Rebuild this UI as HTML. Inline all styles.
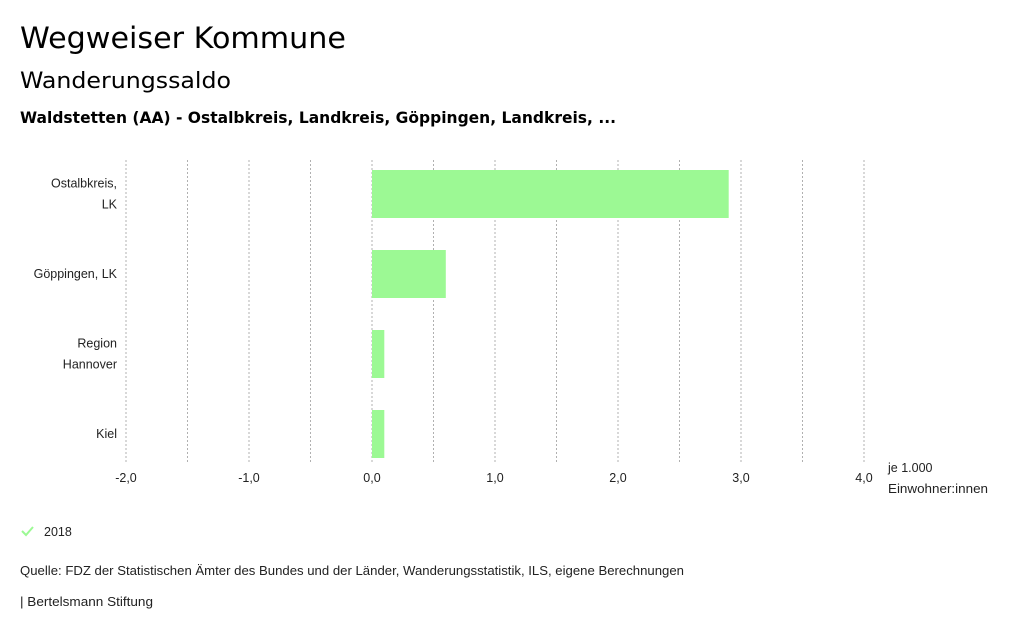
<!DOCTYPE html>
<html><head><meta charset="utf-8"><style>
html,body{margin:0;padding:0;background:#fff;}
svg{display:block;}
text{font-family:"Liberation Sans",sans-serif;fill:#222;}
.t{font-family:"DejaVu Sans",sans-serif;fill:#000;}
</style></head><body>
<svg id="c" width="1024" height="634" xmlns="http://www.w3.org/2000/svg">
<text class="t" x="20" y="48" font-size="29" textLength="326" lengthAdjust="spacingAndGlyphs">Wegweiser Kommune</text>
<text class="t" x="20" y="88" font-size="22" textLength="211" lengthAdjust="spacingAndGlyphs">Wanderungssaldo</text>
<text class="t" x="20" y="123" font-size="16" font-weight="bold" textLength="596" lengthAdjust="spacingAndGlyphs">Waldstetten (AA) - Ostalbkreis, Landkreis, Göppingen, Landkreis, ...</text>
<g id="grid"></g><g id="bars"></g><g id="ylab"></g><g id="xlab"></g>
<text x="888" y="472" font-size="12.5">je 1.000</text>
<text x="888" y="493" font-size="12.5" textLength="100" lengthAdjust="spacingAndGlyphs">Einwohner:innen</text>
<g>
<path d="M22 531 l4 4 l7 -8" stroke="#9cf994" stroke-width="2" fill="none"/>
<text x="44" y="536" font-size="12.5">2018</text></g>
<text x="20" y="575" font-size="12.5" textLength="664" lengthAdjust="spacingAndGlyphs">Quelle: FDZ der Statistischen Ämter des Bundes und der Länder, Wanderungsstatistik, ILS, eigene Berechnungen</text>
<text x="20" y="606" font-size="12.5" textLength="133" lengthAdjust="spacingAndGlyphs">| Bertelsmann Stiftung</text>
</svg>
<script>
const categories=[["Ostalbkreis,","LK"],["Göppingen, LK"],["Region","Hannover"],["Kiel"]];
const values=[2.9,0.6,0.1,0.1];
const ticks=[-2,-1,0,1,2,3,4];
const tickLabels=["-2,0","-1,0","0,0","1,0","2,0","3,0","4,0"];
const NS="http://www.w3.org/2000/svg";
const x=v=>372+v*123;
const yTop=i=>170+i*80;
function mk(t,a,p){const e=document.createElementNS(NS,t);for(const k in a)e.setAttribute(k,a[k]);p.appendChild(e);return e;}
const g=document.getElementById('grid');
for(let v=-2;v<=4.001;v+=0.5){
 const l=mk('line',{x1:x(v),x2:x(v),y1:160,y2:463,stroke:'#b0b0b0','stroke-width':1,'stroke-dasharray':'2,2'},g);
 
 
}
const b=document.getElementById('bars');
values.forEach((v,i)=>{
 const r=mk('rect',{x:Math.min(x(0),x(v)),y:yTop(i),width:Math.abs(x(v)-x(0)),height:48,fill:'#9cf994'},b);
 
 
});
const yl=document.getElementById('ylab');
categories.forEach((c,i)=>{
 const cy=yTop(i)+24;
 c.forEach((s,j)=>{
  const t=mk('text',{x:117,y:cy+4+(j-(c.length-1)/2)*21,'font-size':12.5,'text-anchor':'end'},yl);
  t.textContent=s;
  
  
 });
});
const xl=document.getElementById('xlab');
ticks.forEach((v,i)=>{
 const t=mk('text',{x:x(v),y:482,'font-size':12.5,'text-anchor':'middle'},xl);
 t.textContent=tickLabels[i];
 
 
});
</script>
</body></html>
